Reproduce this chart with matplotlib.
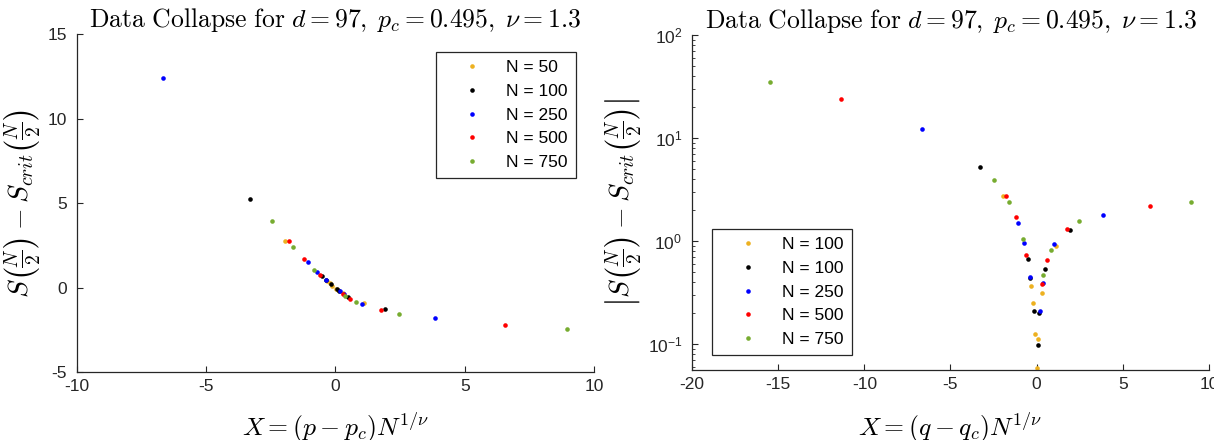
import numpy as np
import matplotlib.pyplot as plt
from matplotlib.transforms import Bbox

plt.rcParams['font.family'] = ['Liberation Sans', 'DejaVu Sans']
plt.rcParams['mathtext.fontset'] = 'cm'
plt.rcParams['axes.unicode_minus'] = False

# series labels (the right legend in the original repeats "N = 100")
labels_left = ['N = 50', 'N = 100', 'N = 250', 'N = 500', 'N = 750']
labels_right = ['N = 100', 'N = 100', 'N = 250', 'N = 500', 'N = 750']
colors = ['#EDB120', 'black', 'blue', 'red', '#77AC30']

# X = (p - p_c) N^(1/nu)  and  S(N/2) - S_crit(N/2)
x_50 = [-1.94, -0.31, -0.21, -0.12, 0.03, 0.09, 0.29, 1.10]
y_50 = [2.76, 0.369, 0.251, 0.125, -0.058, -0.112, -0.316, -0.895]

x_100 = [-3.31, -0.52, -0.37, -0.17, 0.06, 0.15, 0.50, 1.91]
y_100 = [5.27, 0.67, 0.438, 0.21, -0.098, -0.202, -0.54, -1.28]

x_250 = [-6.65, -1.06, -0.71, -0.36, 0.17, 0.35, 1.03, 3.84]
y_250 = [12.4, 1.5, 0.95, 0.45, -0.211, -0.392, -0.94, -1.78]

x_500 = [-11.36, -1.80, -1.20, -0.60, 0.29, 0.58, 1.78, 6.55]
y_500 = [23.9, 2.75, 1.70, 0.73, -0.386, -0.655, -1.32, -2.19]

x_750 = [-15.5, -2.45, -1.63, -0.82, 0.38, 0.81, 2.44, 8.95]
y_750 = [34.8, 3.92, 2.42, 1.05, -0.466, -0.818, -1.57, -2.42]

xs = [x_50, x_100, x_250, x_500, x_750]
ys = [y_50, y_100, y_250, y_500, y_750]

title = r'$\mathrm{Data\ Collapse\ for}\ d = 97, \; p_c = 0.495, \; \nu = 1.3$'
axcol = '#262626'
tfs = 12.5

fig = plt.figure(figsize=(12.3, 4.4), dpi=100)
ax1 = fig.add_axes([0.0624, 0.1539, 0.4206, 0.769])
ax2 = fig.add_axes([0.5626, 0.159, 0.4203, 0.761])

for i in range(5):
    ax1.plot(xs[i], ys[i], 'o', ms=3.3, mew=0, color=colors[i], label=labels_left[i])
    ax2.plot(xs[i], np.abs(ys[i]), 'o', ms=3.3, mew=0, color=colors[i], label=labels_right[i], clip_on=False)

ax1.set_xlim(-10, 10)
ax1.set_ylim(-5, 15)
ax1.set_xticks([-10, -5, 0, 5, 10])
ax1.set_yticks([-5, 0, 5, 10, 15])

ax2.set_yscale('log')
ax2.set_xlim(-20, 10)
ax2.set_ylim(0.056, 100)
ax2.set_xticks([-20, -15, -10, -5, 0, 5, 10])

ax1.set_ylabel(r'$S\left(\frac{N}{2}\right) - S_{crit}\left(\frac{N}{2}\right)$', fontsize=20)
ax2.set_ylabel(r'$\left|S\left(\frac{N}{2}\right) - S_{crit}\left(\frac{N}{2}\right)\right|$', fontsize=20)
ax1.set_xlabel(r'$X = (p - p_c)N^{1/\nu}$', fontsize=18.5)
ax2.set_xlabel(r'$X = (q - q_c)N^{1/\nu}$', fontsize=18.5)
ax1.yaxis.set_label_coords(-0.064, 0.5)
ax2.yaxis.set_label_coords(-0.09, 0.5)
ax1.xaxis.set_label_coords(0.5, -0.115)
ax2.xaxis.set_label_coords(0.5, -0.123)

for ax in (ax1, ax2):
    ax.set_title(title, fontsize=18.5, pad=5)
    for s in ('top', 'right'):
        ax.spines[s].set_visible(False)
    for s in ('left', 'bottom'):
        ax.spines[s].set_color(axcol)
        ax.spines[s].set_linewidth(0.9)
    ax.tick_params(which='both', direction='in', colors=axcol, labelsize=tfs)
    ax.tick_params(axis='x', pad=5)
    ax.tick_params(axis='y', pad=7)
    ax.tick_params(which='major', length=4)
    ax.tick_params(which='minor', length=2.5)

leg_kw = dict(loc='upper left', fontsize=tfs, frameon=True, fancybox=False,
              handlelength=3.3, handletextpad=0.3, labelspacing=0.5,
              borderpad=0.45, borderaxespad=0, numpoints=1, markerscale=1.0)
lg1 = ax1.legend(bbox_to_anchor=(436 / 1230, 1 - 52 / 440), bbox_transform=fig.transFigure, **leg_kw)
lg2 = ax2.legend(bbox_to_anchor=(712 / 1230, 1 - 229 / 440), bbox_transform=fig.transFigure, **leg_kw)
for lg in (lg1, lg2):
    fr = lg.get_frame()
    fr.set_edgecolor(axcol)
    fr.set_linewidth(0.9)
    fr.set_alpha(1)

# the original export cuts the last x tick label of the right panel
fig.canvas.draw()
lab = ax2.get_xticklabels()[-1]
lab.set_clip_box(Bbox.from_extents(0, 0, 1214, 440))
lab.set_clip_on(True)

fig.savefig('out.png', dpi=100)
